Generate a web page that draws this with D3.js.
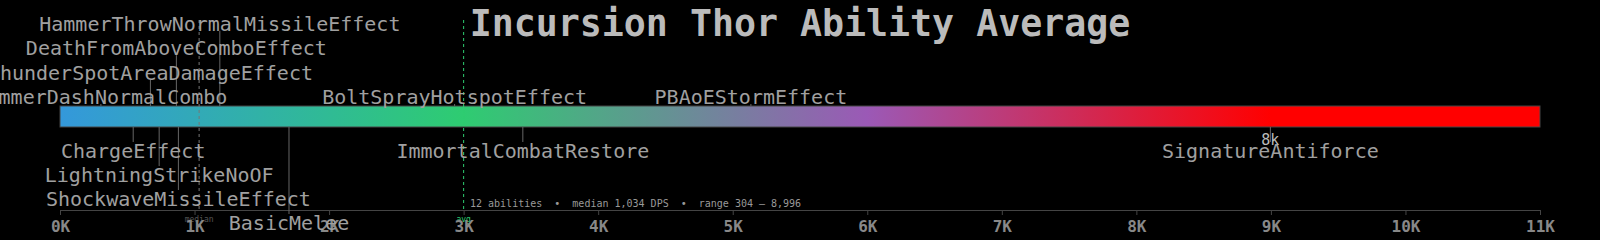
<!DOCTYPE html>
<html>
<head>
<meta charset="utf-8">
<script src="https://cdn.jsdelivr.net/npm/d3@7"></script>
<style>
  html, body { margin: 0; padding: 0; background: #000; }
  svg { display: block; font-family: "DejaVu Sans Mono", monospace; }
</style>
</head>
<body>
<div id="chart"></div>
<script>
// ability DPS values
const abilities = [
  "HammerDashNormalCombo", "ChargeEffect", "ThunderSpotAreaDamageEffect",
  "LightningStrikeNoOF", "DeathFromAboveComboEffect", "ShockwaveMissileEffect",
  "HammerThrowNormalMissileEffect", "BasicMelee", "BoltSprayHotspotEffect",
  "ImmortalCombatRestore", "PBAoEStormEffect", "SignatureAntiforce"
];
const dps = [304, 544, 672, 737, 865, 880, 1188, 1702, 2933, 3440, 5135, 8996];

const tickValues = [0, 1000, 2000, 3000, 4000, 5000, 6000, 7000, 8000, 9000, 10000, 11000];
const colorStops = [0, 3000, 6000, 9000];
const colorRange = ["#3498db", "#2ecc71", "#9b59b6", "#ff0000"];
const referenceDps = 3000;
const referenceLabel = "avg";
const title = "Incursion Thor Ability Average";

const width = 1600, height = 240;
const barTop = 106, barH = 21, axisY = 210;

const x = d3.scaleLinear().domain([0, 11000]).range([60, 1540]);
const color = d3.scaleLinear().domain(colorStops).range(colorRange).clamp(true);

const svg = d3.select("#chart").append("svg")
    .attr("width", width)
    .attr("height", height);

svg.append("rect").attr("width", width).attr("height", height).attr("fill", "#000");

// gradient bar
const grad = svg.append("defs").append("linearGradient")
    .attr("id", "barGrad")
    .attr("gradientUnits", "userSpaceOnUse")
    .attr("x1", x(0)).attr("x2", x(11000))
    .attr("y1", 0).attr("y2", 0);
grad.selectAll("stop")
    .data(colorStops)
    .join("stop")
    .attr("offset", d => d / 11000)
    .attr("stop-color", d => color(d));

svg.append("rect")
    .attr("x", x(0))
    .attr("y", barTop)
    .attr("width", x(11000) - x(0))
    .attr("height", barH)
    .attr("fill", "url(#barGrad)")
    .attr("stroke", "#444")
    .attr("stroke-width", 1);

// title
svg.append("text")
    .attr("x", width / 2)
    .attr("y", 36)
    .attr("text-anchor", "middle")
    .attr("font-size", 36.6)
    .attr("font-weight", "bold")
    .attr("fill", "#bbb")
    .text(title);

// median and reference lines (under the axis labels)
const median = d3.median(dps);
svg.append("line")
    .attr("x1", x(median)).attr("x2", x(median))
    .attr("y1", 20).attr("y2", axisY + 2)
    .attr("stroke", "#777")
    .attr("stroke-dasharray", "3,3");
svg.append("text")
    .attr("x", x(median)).attr("y", 222)
    .attr("text-anchor", "middle")
    .attr("font-size", 8)
    .attr("fill", "#555")
    .text("median");

svg.append("line")
    .attr("x1", x(referenceDps)).attr("x2", x(referenceDps))
    .attr("y1", 20).attr("y2", axisY + 2)
    .attr("stroke", "#2ecc71")
    .attr("stroke-dasharray", "3,3");
svg.append("text")
    .attr("x", x(referenceDps)).attr("y", 222)
    .attr("text-anchor", "middle")
    .attr("font-size", 8)
    .attr("fill", "#2ecc71")
    .text(referenceLabel);

// axis
const axis = svg.append("g")
    .attr("transform", `translate(0,${axisY})`)
    .call(d3.axisBottom(x)
        .tickValues(tickValues)
        .tickFormat(d => d / 1000 + "K")
        .tickSizeInner(5)
        .tickSizeOuter(0)
        .tickPadding(6));
axis.select(".domain").attr("stroke", "#444");
axis.selectAll(".tick line").attr("stroke", "#444");
axis.selectAll(".tick text")
    .attr("fill", "#888")
    .attr("font-size", 16)
    .attr("font-weight", "bold")
    .attr("font-family", "DejaVu Sans Mono, monospace");

// label layout: alternate above/below, nearest free row
const items = abilities.map((name, i) => ({ name, value: dps[i] }))
    .sort((a, b) => a.value - b.value);

const measure = svg.append("text").attr("font-size", 20).attr("visibility", "hidden");
const gap = 30;
const rows = { above: [[], [], [], []], below: [[], [], [], []] };
items.forEach((d, i) => {
    d.side = i % 2 === 0 ? "above" : "below";
    measure.text(d.name);
    const w = measure.node().getComputedTextLength();
    d.x0 = x(d.value) - w / 2;
    d.x1 = x(d.value) + w / 2;
    const r = rows[d.side].findIndex(row =>
        row.every(o => d.x1 + gap < o.x0 || d.x0 - gap > o.x1));
    d.row = r < 0 ? 3 : r;
    rows[d.side][d.row].push(d);
});
measure.remove();

const baseline = d => d.side === "above" ? 104 - d.row * 24.4 : 158 + d.row * 24;

svg.append("g")
    .selectAll("line")
    .data(items)
    .join("line")
    .attr("x1", d => x(d.value))
    .attr("x2", d => x(d.value))
    .attr("y1", d => d.side === "above" ? barTop : barTop + barH)
    .attr("y2", d => d.side === "above" ? baseline(d) : baseline(d) - 16)
    .attr("stroke", "#666")
    .attr("stroke-width", 1);

svg.append("g")
    .selectAll("text")
    .data(items)
    .join("text")
    .attr("x", d => x(d.value))
    .attr("y", baseline)
    .attr("text-anchor", "middle")
    .attr("font-size", 20)
    .attr("fill", "#a0a0a0")
    .text(d => d.name);

// peak value tag
const maxItem = items[items.length - 1];
svg.append("text")
    .attr("x", x(maxItem.value))
    .attr("y", 145)
    .attr("text-anchor", "middle")
    .attr("font-size", 15)
    .attr("fill", "#bbb")
    .text(Math.floor(maxItem.value / 1000) + "k");

// stats line
const fmt = d3.format(",");
svg.append("text")
    .attr("x", 470)
    .attr("y", 207)
    .attr("font-size", 10)
    .attr("fill", "#999")
    .style("white-space", "pre")
    .text(`${dps.length} abilities  \u2022  median ${fmt(Math.round(median))} DPS  \u2022  range ${fmt(d3.min(dps))} \u2013 ${fmt(d3.max(dps))}`);
</script>
</body>
</html>
